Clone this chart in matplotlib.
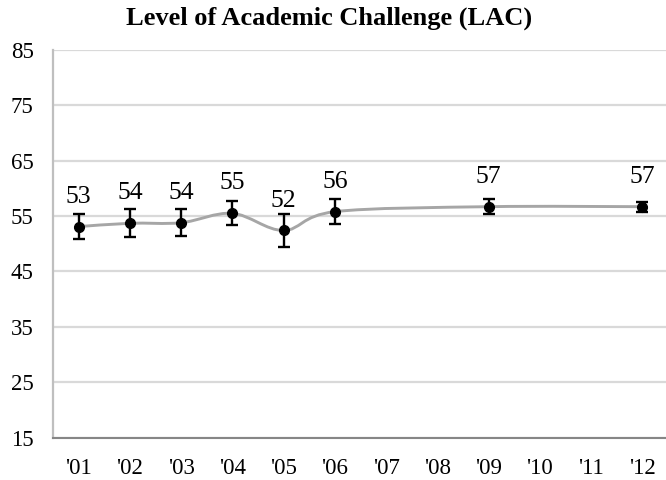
import numpy as np
import matplotlib.pyplot as plt
from matplotlib.path import Path
from matplotlib.patches import PathPatch

plt.rcParams['font.family'] = ['Liberation Serif', 'DejaVu Serif']

years = ["'01", "'02", "'03", "'04", "'05", "'06", "'07", "'08", "'09", "'10", "'11", "'12"]
obs_idx = [0, 1, 2, 3, 4, 5, 8, 11]          # years with data
means = [53.1, 53.7, 53.8, 55.5, 52.4, 55.8, 56.7, 56.7]
errs = [2.3, 2.5, 2.4, 2.2, 3.0, 2.2, 1.3, 0.9]
labels = ['53', '54', '54', '55', '52', '56', '57', '57']


def smooth_path(x, y):
    '''Excel-like smoothed line (Catmull-Rom as cubic Bezier)'''
    pts = np.column_stack([x, y]).astype(float)
    n = len(pts)
    verts = [pts[0]]
    codes = [Path.MOVETO]
    for i in range(n - 1):
        p0 = pts[i - 1] if i > 0 else pts[i]
        p1 = pts[i]
        p2 = pts[i + 1]
        p3 = pts[i + 2] if i + 2 < n else pts[i + 1]
        c1 = p1 + (p2 - p0) / 6.
        c2 = p2 - (p3 - p1) / 6.
        verts += [c1, c2, p2]
        codes += [Path.CURVE4] * 3
    return Path(verts, codes)


fig = plt.figure(figsize=(6.66, 4.8), dpi=100)
ax = fig.add_axes([0.0796, 0.0885, 0.9234, 0.8073])

ax.set_xlim(-0.5, 11.5)
ax.set_ylim(15, 85)
ax.set_yticks(np.arange(15, 86, 10))
ax.set_xticks(range(len(years)))
ax.set_xticklabels(years)

ax.grid(axis='y', color='#d9d9d9', lw=1.6)
ax.set_axisbelow(True)
for s in ['top', 'right']:
    ax.spines[s].set_visible(False)
ax.spines['left'].set_color('#bfbfbf')
ax.spines['left'].set_linewidth(1.6)
ax.spines['bottom'].set_color('#868686')
ax.spines['bottom'].set_linewidth(1.5)
ax.spines['bottom'].set_zorder(3)
ax.tick_params(length=0, labelsize=16.5)
ax.tick_params(axis='y', pad=14)
ax.tick_params(axis='x', pad=15)

# smoothed trend line
ax.add_patch(PathPatch(smooth_path(obs_idx, means), fill=False,
                       edgecolor='#a6a6a6', lw=2.1, zorder=2))

ax.errorbar(obs_idx, means, yerr=errs, fmt='o', color='black', ms=7,
            elinewidth=1.7, capsize=4.4, capthick=1.7, zorder=4)

for xi, m, t in zip(obs_idx, means, labels):
    ax.annotate(t, (xi, m), xytext=(0, 21.5), textcoords='offset points',
                ha='center', va='center', fontsize=18.5)

fig.text(0.494, 0.962, 'Level of Academic Challenge (LAC)', ha='center',
         va='center', fontsize=19, fontweight='bold')

plt.savefig('out.png', dpi=100)
